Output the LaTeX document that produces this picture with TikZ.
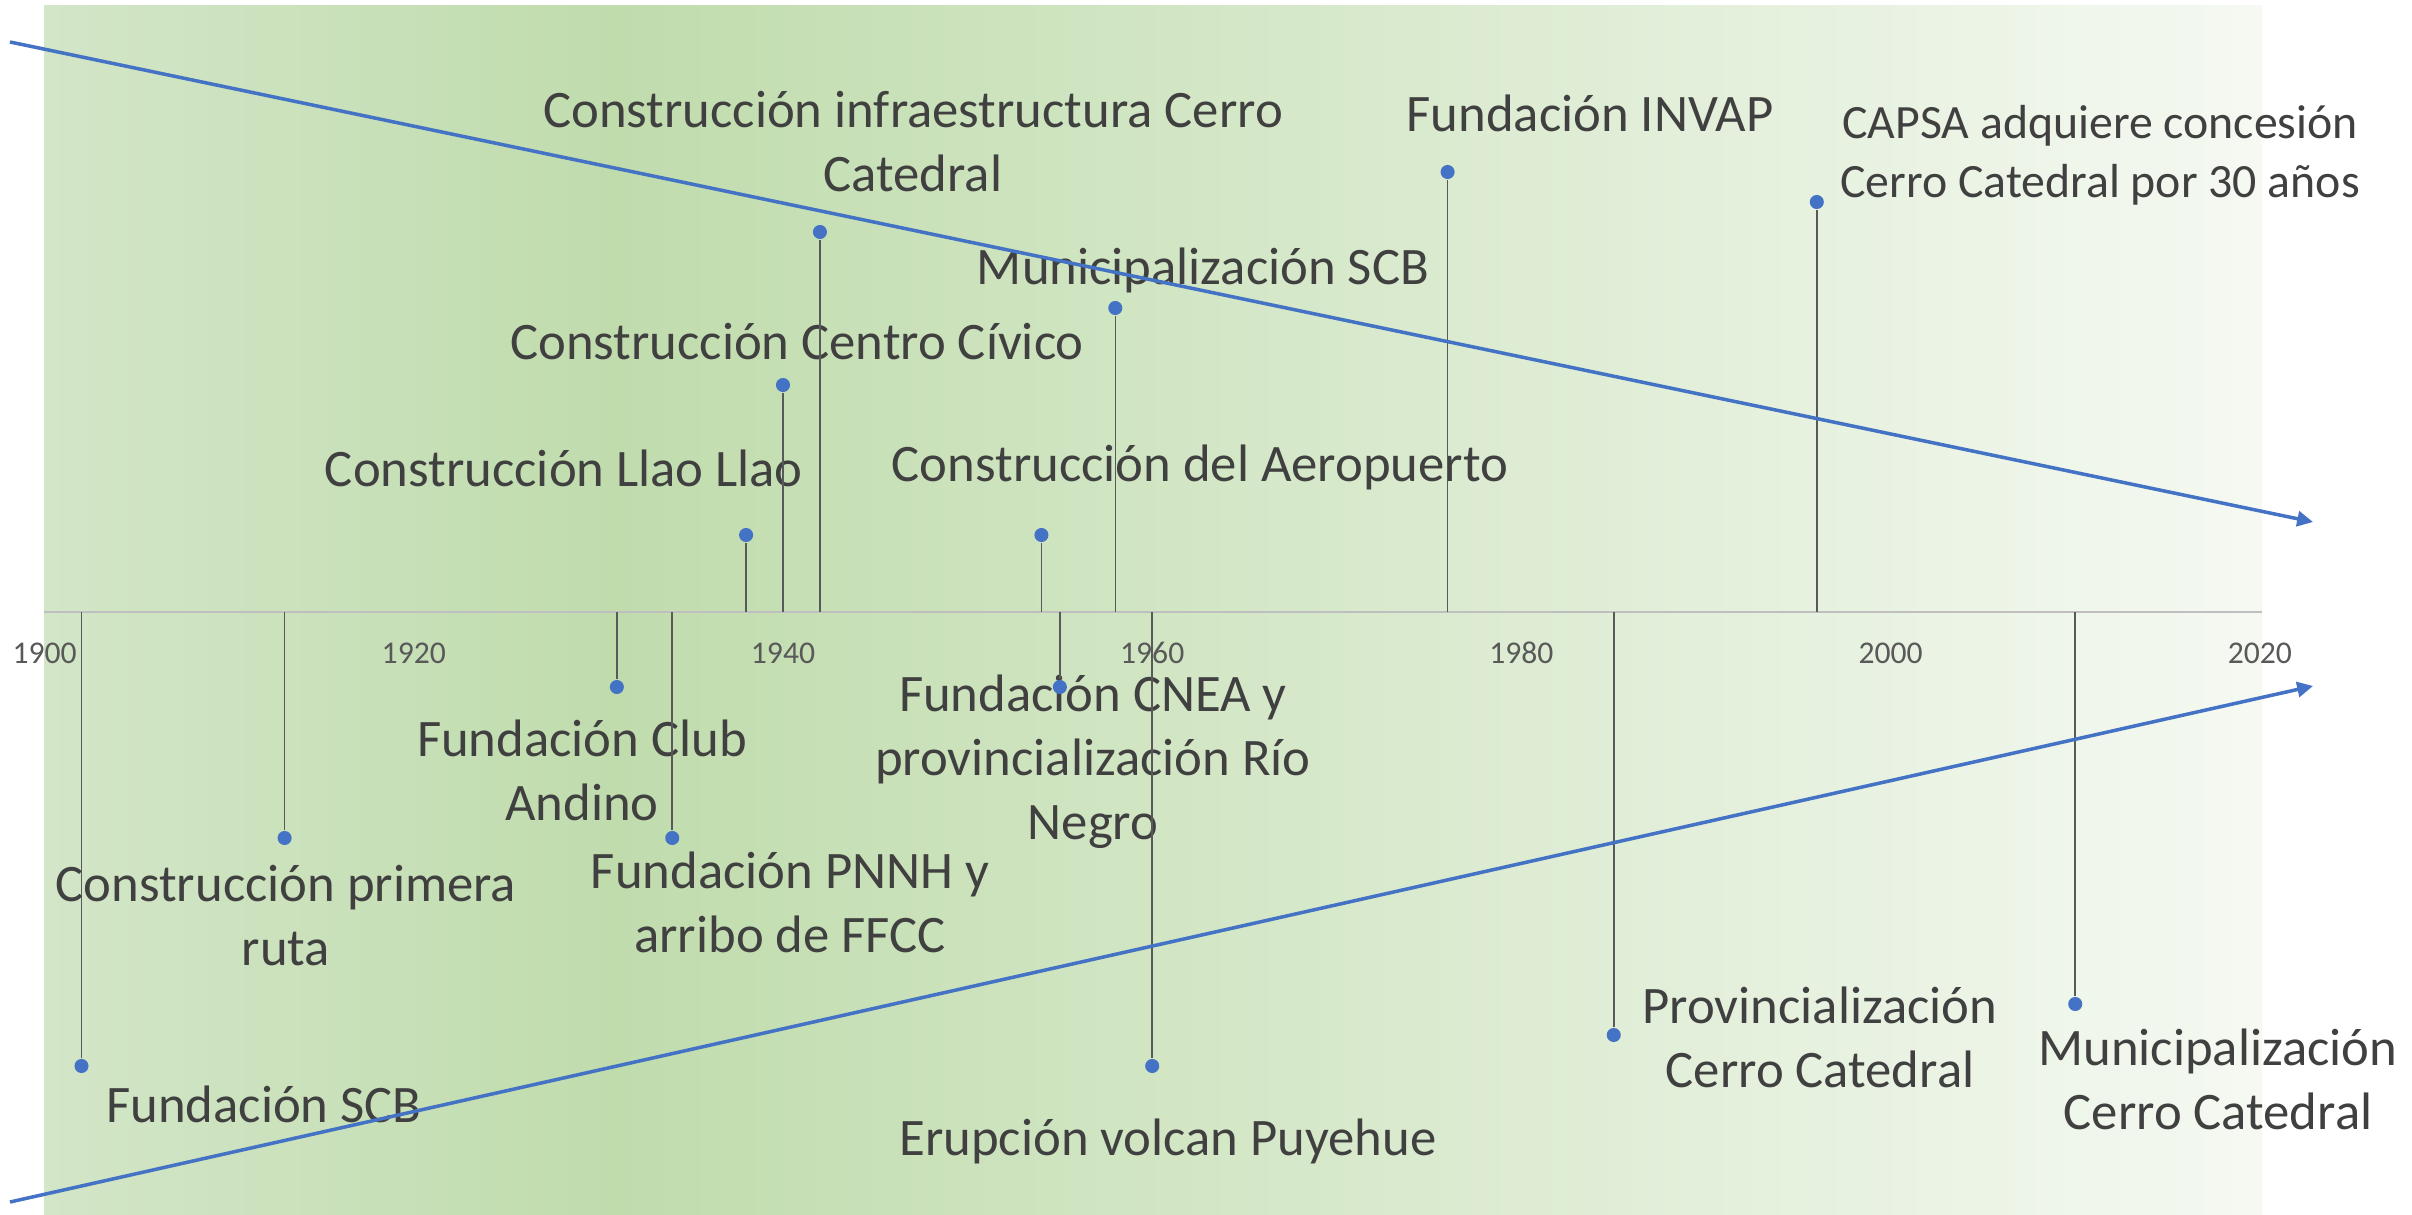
\documentclass[tikz,border=0pt]{standalone}
\usepackage{fontspec}
\setmainfont{Carlito}
\usepackage{tikz}
\usetikzlibrary{arrows.meta}
\definecolor{txtgray}{HTML}{404040}
\definecolor{yeargray}{HTML}{595959}
\definecolor{stemgray}{HTML}{595959}
\definecolor{axisgray}{HTML}{BFBFBF}
\definecolor{trendblue}{HTML}{4472C4}
\definecolor{bgleft}{HTML}{D3E6C8}
\definecolor{bgdark}{HTML}{C0DCAD}
\definecolor{bgright}{HTML}{F5F9F2}
\tikzset{
  evlabel/.style={font=\fontsize{15}{18.3}\selectfont,text=txtgray,align=center,inner sep=0pt,execute at begin node=\strut,execute at end node=\strut},
  evsmall/.style={evlabel,font=\fontsize{13.6}{16.6}\selectfont},
  yearlabel/.style={font=\fontsize{9}{11}\selectfont,text=yeargray,inner sep=0pt},
  evdot/.style={circle,fill=trendblue,inner sep=0pt,minimum size=4pt},
  stemline/.style={draw=stemgray,line width=.45pt},
  axisline/.style={draw=axisgray,line width=.6pt},
  trend/.style={-{Triangle[length=4.5pt,width=4.3pt]},draw=trendblue,line width=1pt},
}

\begin{document}
\begin{tikzpicture}[x=.1mm,y=-.1mm]
  \useasboundingbox (0,0) rectangle (2412,1215);
  % background band
  \shade[left color=bgleft,right color=bgdark] (44,6) rectangle (615,1215);
  \shade[left color=bgdark,right color=bgright] (615,6) rectangle (2262,1215);
  \coordinate (ax0) at (44,612);
  \coordinate (ax1) at (2262,612);
  \draw[axisline] (ax0) -- (ax1);
  \foreach \yr in {1900,1920,...,2020}{
    \node[yearlabel] (y\yr) at ({44.6+18.46*(\yr-1900)},653) {\yr};
  }
  % events: year / dot y / label x / label y / style / text
  \foreach \yr/\dy/\lx/\ly/\st/\lab [count=\i] in {
      1902/1066/264/1110/evlabel/{Fundación SCB},
      1913/838/286/925/evlabel/{Construcción primera\\ruta},
      1931/687/582/780/evlabel/{Fundación Club\\Andino},
      1934/838/790/912/evlabel/{Fundación PNNH y\\arribo de FFCC},
      1938/535/564/474/evlabel/{Construcción Llao Llao},
      1940/385/797/347/evlabel/{Construcción Centro Cívico},
      1942/232/913/151/evlabel/{Construcción infraestructura Cerro\\Catedral},
      1954/535/1200/469/evlabel/{Construcción del Aeropuerto},
      1955/687/1093/767/evlabel/{Fundación CNEA y\\provincialización Río\\Negro},
      1958/308/1203/272/evlabel/{Municipalización SCB},
      1960/1066/1168/1143/evlabel/{Erupción volcan Puyehue},
      1976/172/1590/119/evlabel/{Fundación INVAP},
      1985/1035/1820/1047/evlabel/{Provincialización\\Cerro Catedral},
      1996/202/2100/160/evsmall/{CAPSA adquiere concesión\\Cerro Catedral por 30 años},
      2010/1004/2218/1089/evlabel/{Municipalización\\Cerro Catedral}}{
    \node[\st] (t\i) at (\lx,\ly) {\lab};
    \coordinate (b\i) at ({44.6+18.46*(\yr-1900)},612);
    \node[evdot] (d\i) at ({44.6+18.46*(\yr-1900)},\dy) {};
    \draw[stemline] (b\i) -- (d\i);
  }
  % trend arrows
  \coordinate (up0) at (10,42);
  \coordinate (up1) at (2313,522);
  \coordinate (lo0) at (10,1202);
  \coordinate (lo1) at (2313,686);
  \draw[trend] (up0) -- (up1);
  \draw[trend] (lo0) -- (lo1);
\end{tikzpicture}
\end{document}
